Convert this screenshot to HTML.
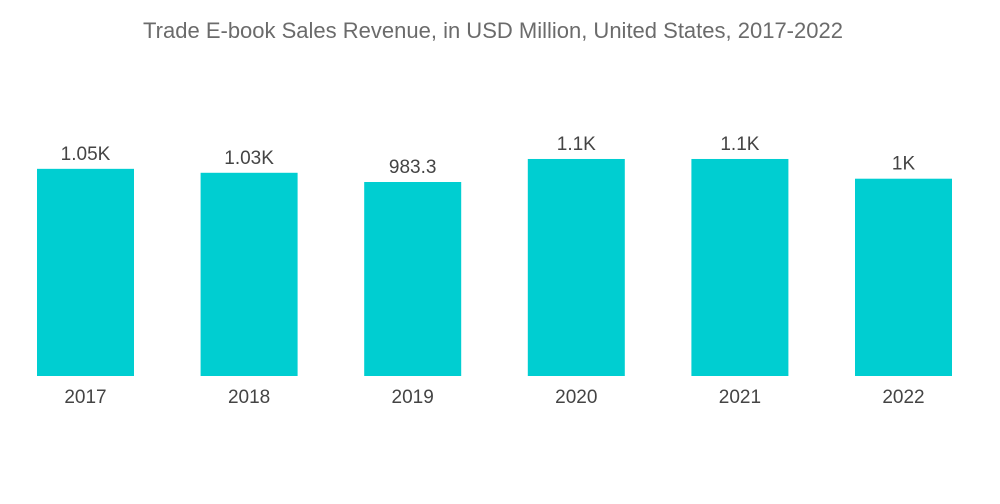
<!DOCTYPE html>
<html><head><meta charset="utf-8"><style>
html,body{margin:0;padding:0;background:#fff;}
svg{display:block;font-family:"Liberation Sans",sans-serif;}
</style></head><body>
<svg id="chart" width="1000" height="504" viewBox="0 0 1000 504">
<text x="493" y="38" text-anchor="middle" font-size="22" fill="#6b6b6b">Trade E-book Sales Revenue, in USD Million, United States, 2017-2022</text>
<g id="bars"></g>
</svg>
<script>
const categories = ["2017","2018","2019","2020","2021","2022"];
const values = [1050, 1030, 983.3, 1100, 1100, 1000];
const valueLabels = ["1.05K","1.03K","983.3","1.1K","1.1K","1K"];

const baseline = 376, pxPerUnit = 194 / 983.3;
const left = 37, step = 163.6, barW = 97;
function yScale(v){ return baseline - v * pxPerUnit; }
function xScale(i){ return left + i * step; }
const ns = "http://www.w3.org/2000/svg";
const g = document.getElementById("bars");
categories.forEach((c, i) => {
  const x = xScale(i), y = yScale(values[i]);
  const r = document.createElementNS(ns, "rect");
  r.setAttribute("x", x); r.setAttribute("y", y);
  r.setAttribute("width", barW); r.setAttribute("height", baseline - y);
  r.setAttribute("fill", "#00ced1");
  
  
  g.appendChild(r);
  const t = document.createElementNS(ns, "text");
  t.setAttribute("x", x + barW / 2); t.setAttribute("y", y - 9);
  t.setAttribute("text-anchor", "middle"); t.setAttribute("font-size", "19");
  t.setAttribute("fill", "#444");
  t.textContent = valueLabels[i];
  
  
  g.appendChild(t);
  const l = document.createElementNS(ns, "text");
  l.setAttribute("x", x + barW / 2); l.setAttribute("y", 403);
  l.setAttribute("text-anchor", "middle"); l.setAttribute("font-size", "19");
  l.setAttribute("fill", "#444");
  l.textContent = c;
  
  
  g.appendChild(l);
});
</script>
</body></html>
